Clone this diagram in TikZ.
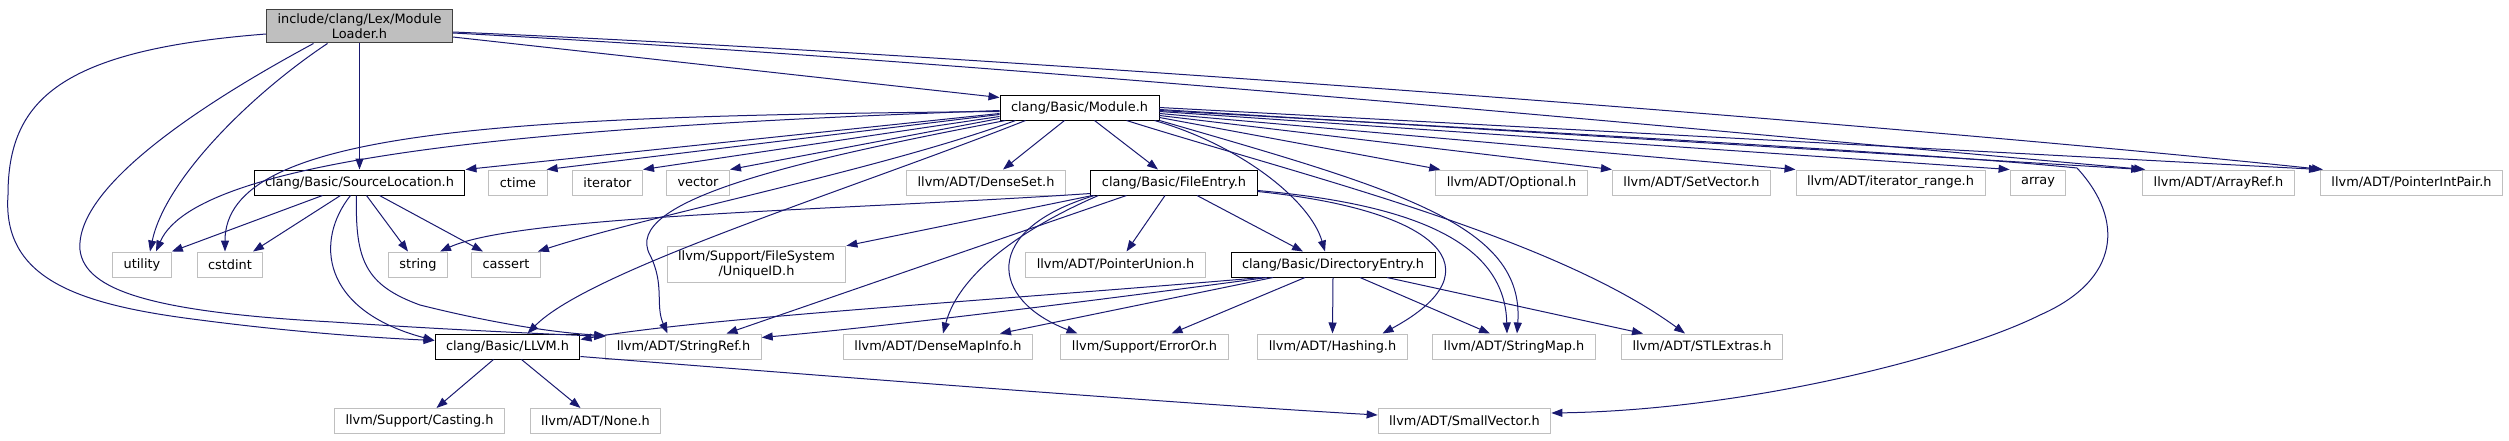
\documentclass[tikz,border=0pt]{standalone}
\usepackage{fontspec}
\setmainfont{DejaVu Sans}
\usetikzlibrary{arrows.meta}
\definecolor{edgeblue}{HTML}{191970}
\definecolor{leafgrey}{HTML}{BFBFBF}
\definecolor{rootedge}{HTML}{404040}

\begin{document}
\begin{tikzpicture}[
  x=1pt, y=-1pt,
  font=\fontsize{12.9}{15}\selectfont,
  box/.style={draw, line width=1pt, fill=white, align=center, inner xsep=11pt, inner ysep=4.5pt, minimum height=25pt},
  hdr/.style={box, draw=black},
  leaf/.style={box, draw=leafgrey},
  rootbox/.style={box, draw=rootedge, fill=leafgrey},
  inc/.style={draw=edgeblue, line width=1pt, -{Triangle[length=11pt, width=8pt]}},
]
\useasboundingbox (0,0) rectangle (2509,440);

% --- the file itself and Module.h ------------------------------------------
\node[rootbox] (loader) at (359.5,26) {include/clang/Lex/Module\\Loader.h};
\node[hdr] (module) at (1079.5,107.5) {clang/Basic/Module.h};

% --- second row -------------------------------------------------------------
\node[hdr] (srcloc) at (359.5,182.5) {clang/Basic/SourceLocation.h};
\node[leaf] (ctime) at (518,182.5) {ctime};
\node[leaf] (iterator) at (607.5,182.5) {iterator};
\node[leaf] (vector) at (698,182.5) {vector};
\node[leaf] (denseset) at (986,182.5) {llvm/ADT/DenseSet.h};
\node[hdr] (fileentry) at (1174,182.5) {clang/Basic/FileEntry.h};
\node[leaf] (optional) at (1511.5,182.5) {llvm/ADT/Optional.h};
\node[leaf] (setvector) at (1691.5,182.5) {llvm/ADT/SetVector.h};
\node[leaf] (itrange) at (1890.5,182.5) {llvm/ADT/iterator\_range.h};
\node[leaf] (array) at (2038,182.5) {array};
\node[leaf] (arrayref) at (2218.5,182.5) {llvm/ADT/ArrayRef.h};
\node[leaf] (ptrintpair) at (2411.5,182.5) {llvm/ADT/PointerIntPair.h};

% --- third row --------------------------------------------------------------
\node[leaf] (utility) at (142,264.5) {utility};
\node[leaf] (cstdint) at (230,264.5) {cstdint};
\node[leaf] (string) at (418,264.5) {string};
\node[leaf] (cassert) at (506,264.5) {cassert};
\node[leaf] (uniqueid) at (756.5,264.5) {llvm/Support/FileSystem\\/UniqueID.h};
\node[leaf] (ptrunion) at (1115.5,264.5) {llvm/ADT/PointerUnion.h};
\node[hdr] (direntry) at (1333,264.5) {clang/Basic/DirectoryEntry.h};

% --- fourth row -------------------------------------------------------------
\node[hdr] (llvm) at (507.5,346.5) {clang/Basic/LLVM.h};
\node[leaf] (stringref) at (683.5,346.5) {llvm/ADT/StringRef.h};
\node[leaf] (densemapinfo) at (938,346.5) {llvm/ADT/DenseMapInfo.h};
\node[leaf] (erroror) at (1144.5,346.5) {llvm/Support/ErrorOr.h};
\node[leaf] (hashing) at (1332.5,346.5) {llvm/ADT/Hashing.h};
\node[leaf] (stringmap) at (1514,346.5) {llvm/ADT/StringMap.h};
\node[leaf] (stlextras) at (1702,346.5) {llvm/ADT/STLExtras.h};

% --- bottom row -------------------------------------------------------------
\node[leaf] (casting) at (419.5,421) {llvm/Support/Casting.h};
\node[leaf] (none) at (595.5,421) {llvm/ADT/None.h};
\node[leaf] (smallvector) at (1464.5,421) {llvm/ADT/SmallVector.h};

% --- includes of ModuleLoader.h ---------------------------------------------
\draw[inc] (loader.south) -- (srcloc.north);
\draw[inc] ([xshift=-32pt]loader.south) .. controls (250,95) and (165,180) .. ([xshift=8pt]utility.north);
\draw[inc] ([yshift=-8pt]loader.west) .. controls (60,50) and (8,100) .. (8,195) .. controls (2,280) and (80,305) .. (200,320) .. controls (300,333) and (380,338) .. ([yshift=6pt]llvm.west);
\draw[inc] ([xshift=-46pt]loader.south) .. controls (190,110) and (75,190) .. (80,250) .. controls (85,290) and (150,312) .. (333,322) .. controls (450,330) and (550,334) .. ([yshift=10pt]stringref.west);
\draw[inc] ([yshift=-11pt]loader.east) -- ([yshift=10pt]module.west);
\draw[inc] ([yshift=-7pt]loader.east) .. controls (1000,62) and (1700,130) .. ([xshift=3pt]arrayref.north west);
\draw[inc] ([yshift=-6pt]loader.east) .. controls (1000,55) and (1900,125) .. ([xshift=3pt]ptrintpair.north west);

% --- includes of Module.h ---------------------------------------------------
\draw[inc] ([yshift=-3pt]module.west) .. controls (600,125) and (200,150) .. ([xshift=14pt]utility.north);
\draw[inc] ([yshift=-4pt]module.west) .. controls (500,116) and (225,130) .. ([xshift=-5pt]cstdint.north);
\draw[inc] ([yshift=-6pt]module.west) -- (srcloc.north east);
\draw[inc] ([yshift=-7pt]module.west) -- ([xshift=-1pt]ctime.north east);
\draw[inc] ([yshift=-9pt]module.west) -- (iterator.north east);
\draw[inc] ([yshift=-11pt]module.west) -- (vector.north east);
\draw[inc] ([xshift=6pt]module.south west) .. controls (800,160) and (620,200) .. (650,255) .. controls (665,285) and (655,305) .. ([xshift=-16pt]stringref.north);
\draw[inc] ([xshift=16pt]module.south west) .. controls (880,170) and (650,215) .. ([xshift=-3pt]cassert.north east);
\draw[inc] ([xshift=26pt]module.south west) .. controls (850,190) and (590,270) .. ([xshift=20pt]llvm.north);
\draw[inc] ([xshift=-15pt]module.south) -- ([xshift=17pt]denseset.north);
\draw[inc] ([xshift=15pt]module.south) -- ([xshift=-16pt]fileentry.north);
\draw[inc] ([xshift=-5pt]module.south east) .. controls (1240,145) and (1310,200) .. ([xshift=-8pt]direntry.north);
\draw[inc] ([xshift=-33pt]module.south east) .. controls (1300,175) and (1550,235) .. ([xshift=-17pt]stlextras.north);
\draw[inc] (module.south east) .. controls (1400,190) and (1525,225) .. ([xshift=3pt]stringmap.north);
\draw[inc] ([yshift=-10pt]module.east) -- ([xshift=5pt]optional.north west);
\draw[inc] ([yshift=-8pt]module.east) -- (setvector.north west);
\draw[inc] ([yshift=-6pt]module.east) -- (itrange.north west);
\draw[inc] ([yshift=-4pt]module.east) -- (array.north west);
\draw[inc] ([yshift=-2pt]module.east) -- (arrayref.north west);
\draw[inc] (module.east) -- (ptrintpair.north west);
\draw[inc] ([yshift=-3pt]module.east) .. controls (1600,135) and (1950,155) .. (2077,168) .. controls (2125,220) and (2120,280) .. (2040,315) .. controls (1960,355) and (1750,410) .. ([yshift=8pt]smallvector.east);

% --- includes of FileEntry.h ------------------------------------------------
\draw[inc] ([xshift=23pt]fileentry.south) -- ([xshift=-30pt]direntry.north);
\draw[inc] ([xshift=-9pt]fileentry.south) -- ([xshift=11pt]ptrunion.north);
\draw[inc] ([yshift=2pt]fileentry.south west) .. controls (850,210) and (520,215) .. ([xshift=22pt]string.north);
\draw[inc] ([xshift=2pt]fileentry.south west) -- (uniqueid.north east);
\draw[inc] ([xshift=36pt]fileentry.south west) -- ([xshift=43pt]stringref.north);
\draw[inc] ([xshift=8pt]fileentry.south west) .. controls (1030,225) and (960,270) .. ([xshift=5pt]densemapinfo.north);
\draw[inc] ([xshift=4pt]fileentry.south west) .. controls (980,230) and (990,300) .. ([xshift=-67pt]erroror.north);
\draw[inc] ([yshift=-9pt]fileentry.east) .. controls (1440,210) and (1500,270) .. ([xshift=50pt]hashing.north);
\draw[inc] ([yshift=-8pt]fileentry.east) .. controls (1420,205) and (1505,245) .. ([xshift=-7pt]stringmap.north);

% --- includes of DirectoryEntry.h -------------------------------------------
\draw[inc] (direntry.south) -- (hashing.north);
\draw[inc] ([xshift=27pt]direntry.south) -- ([xshift=-24pt]stringmap.north);
\draw[inc] ([xshift=54pt]direntry.south) -- ([xshift=-59pt]stlextras.north);
\draw[inc] ([xshift=-28pt]direntry.south) -- ([xshift=27pt]erroror.north);
\draw[inc] ([xshift=-60pt]direntry.south) -- ([xshift=62pt]densemapinfo.north);
\draw[inc] ([xshift=-66pt]direntry.south) .. controls (1100,300) and (900,325) .. ([yshift=9pt]stringref.east);
\draw[inc] ([xshift=-71pt]direntry.south) .. controls (1000,300) and (700,318) .. ([yshift=7pt]llvm.east);

% --- includes of SourceLocation.h -------------------------------------------
\draw[inc] ([xshift=-37pt]srcloc.south) -- (utility.north east);
\draw[inc] ([xshift=-19pt]srcloc.south) -- ([xshift=23pt]cstdint.north);
\draw[inc] ([xshift=7pt]srcloc.south) -- ([xshift=-10pt]string.north);
\draw[inc] ([xshift=20pt]srcloc.south) -- ([xshift=-23pt]cassert.north);
\draw[inc] ([xshift=-9pt]srcloc.south) .. controls (315,240) and (320,310) .. ([yshift=6pt]llvm.west);
\draw[inc] ([xshift=-3pt]srcloc.south) .. controls (355,260) and (365,285) .. (420,305) .. controls (500,325) and (560,333) .. ([yshift=11pt]stringref.west);

% --- includes of LLVM.h -----------------------------------------------------
\draw[inc] ([xshift=-14pt]llvm.south) -- ([xshift=17pt]casting.north);
\draw[inc] ([xshift=14pt]llvm.south) -- ([xshift=-15pt]none.north);
\draw[inc] ([yshift=-10pt]llvm.east) .. controls (850,378) and (1200,405) .. ([yshift=6pt]smallvector.west);
\end{tikzpicture}
\end{document}
